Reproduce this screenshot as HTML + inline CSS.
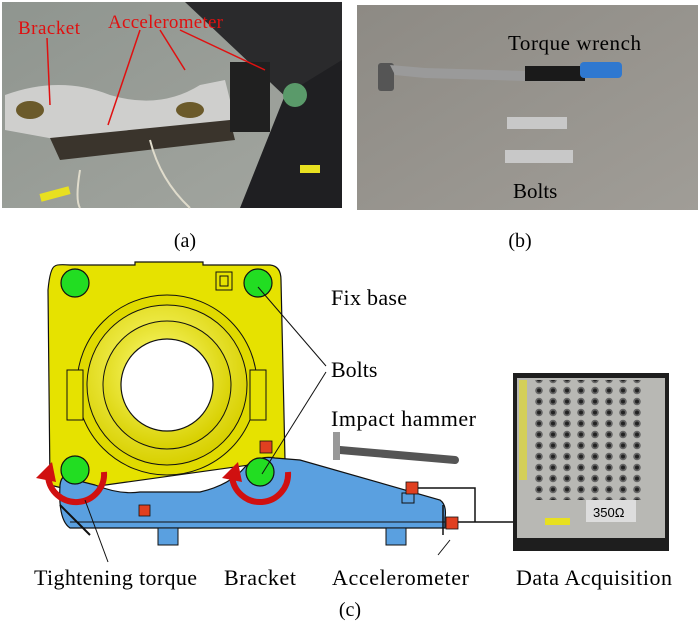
<!DOCTYPE html>
<html><head><meta charset="utf-8"><style>
html,body{margin:0;padding:0;background:#fff;}
svg{display:block;font-family:"Liberation Serif",serif;}
</style></head><body>
<svg width="700" height="629" viewBox="0 0 700 629" xmlns="http://www.w3.org/2000/svg">
<defs>
<radialGradient id="ring" cx="0.45" cy="0.4" r="0.6"><stop offset="0" stop-color="#ffff80"/><stop offset="1" stop-color="#d8d000"/></radialGradient>
<linearGradient id="floorA" x1="0" y1="0" x2="1" y2="1"><stop offset="0" stop-color="#8f958f"/><stop offset="1" stop-color="#a3a6a0"/></linearGradient>
<linearGradient id="floorB" x1="0" y1="0" x2="1" y2="1"><stop offset="0" stop-color="#8d8a84"/><stop offset="1" stop-color="#a09d97"/></linearGradient>
<pattern id="dots" width="14" height="11" patternUnits="userSpaceOnUse"><circle cx="7" cy="5.5" r="3.8" fill="#666"/><circle cx="7" cy="5.5" r="2" fill="#222"/></pattern>
</defs>
<rect x="2" y="2" width="340" height="206" fill="url(#floorA)"/>
<polygon points="185,2 342,2 342,150" fill="#2a2a2c"/>
<polygon points="285,95 342,60 342,208 240,208" fill="#1f1f22"/>
<path d="M5,95 Q60,75 110,95 Q160,110 200,85 L225,80 L235,120 L200,135 Q150,125 110,145 L60,140 L5,130 Z" fill="#cfcfcd"/>
<path d="M50,138 L230,120 L235,140 L60,160 Z" fill="#3a342c"/>
<ellipse cx="30" cy="110" rx="14" ry="9" fill="#6b5a2a"/>
<ellipse cx="190" cy="110" rx="14" ry="8" fill="#6b5a2a"/>
<rect x="230" y="62" width="40" height="70" fill="#202020"/>
<circle cx="295" cy="95" r="12" fill="#5a9a6a"/>
<path d="M80,170 Q75,200 80,208 M150,140 Q160,180 190,208" stroke="#e0dccc" stroke-width="2" fill="none"/>
<rect x="40" y="190" width="30" height="8" fill="#e8e020" transform="rotate(-15 55 194)"/>
<rect x="300" y="165" width="20" height="8" fill="#e8e020"/>
<text x="18" y="34" font-size="19" fill="#e01010" textLength="62">Bracket</text>
<text x="108" y="28" font-size="19" fill="#e01010" textLength="115">Accelerometer</text>
<g stroke="#e01010" stroke-width="1.5" fill="#e01010">
<line x1="47" y1="38" x2="50" y2="105"/><line x1="140" y1="30" x2="108" y2="125"/><line x1="160" y1="30" x2="185" y2="70"/><line x1="180" y1="30" x2="265" y2="70"/>
</g>
<rect x="357" y="5" width="341" height="205" fill="url(#floorB)"/>
<rect x="378" y="63" width="16" height="28" rx="3" fill="#555"/>
<path d="M390,65 L425,68 L560,72 L560,82 L425,78 L395,75 Z" fill="#9a9a9a"/>
<rect x="525" y="66" width="60" height="15" fill="#1a1a1a"/>
<rect x="580" y="62" width="42" height="16" rx="4" fill="#2f78d0"/>
<rect x="507" y="117" width="60" height="12" fill="#c8c8c8"/>
<rect x="505" y="150" width="68" height="13" fill="#c8c8c8"/>
<text x="508" y="50" font-size="21" fill="#000" textLength="133">Torque wrench</text>
<text x="513" y="198" font-size="21" fill="#000">Bolts</text>
<text x="185" y="247" font-size="20" text-anchor="middle">(a)</text>
<text x="520" y="247" font-size="20" text-anchor="middle">(b)</text>
<path d="M55,266 Q57,264 70,265 L135,265 L135,262 L203,262 L203,265 L270,265 Q281,266 281,280 L285,460 L70,490 L50,485 L48,290 Q50,268 55,266 Z" fill="#e6e200" stroke="#111" stroke-width="1.2"/>
<circle cx="167" cy="385" r="90" fill="#e0da00" stroke="#111"/>
<circle cx="167" cy="385" r="80" fill="url(#ring)" stroke="#111"/>
<circle cx="167" cy="385" r="64" fill="url(#ring)" stroke="#111"/>
<circle cx="167" cy="385" r="46" fill="#fff" stroke="#111" stroke-width="1.2"/>
<rect x="216" y="272" width="16" height="18" fill="none" stroke="#111"/>
<rect x="220" y="276" width="8" height="10" fill="none" stroke="#111"/>
<rect x="67" y="370" width="16" height="50" fill="#e6e200" stroke="#111"/>
<rect x="250" y="370" width="16" height="50" fill="#e6e200" stroke="#111"/>
<path d="M60,485 Q62,470 75,480 L95,485 Q120,495 140,492 L200,492 Q230,485 245,467 Q258,455 275,458 L300,460 L440,500 Q447,505 445,518 L445,528 L70,528 Q58,520 60,485 Z" fill="#5aa0e0" stroke="#111" stroke-width="1.2"/>
<line x1="70" y1="522" x2="445" y2="522" stroke="#111"/>
<line x1="60" y1="505" x2="90" y2="535" stroke="#111" stroke-width="2"/>
<line x1="443" y1="505" x2="443" y2="535" stroke="#111" stroke-width="1.5"/>
<rect x="158" y="528" width="20" height="17" fill="#5aa0e0" stroke="#111"/>
<rect x="386" y="528" width="20" height="17" fill="#5aa0e0" stroke="#111"/>
<rect x="402" y="493" width="12" height="10" fill="#5aa0e0" stroke="#111"/>
<g fill="#22dd22" stroke="#111" stroke-width="1.2">
<circle cx="75" cy="283" r="14"/><circle cx="258" cy="283" r="14"/><circle cx="75" cy="470" r="14"/><circle cx="260" cy="472" r="14"/>
</g>
<path d="M104,472 A28,28 0 0 1 48,476" stroke="#d01010" stroke-width="6" fill="none"/>
<polygon points="36,478 52,462 56,482" fill="#d01010"/>
<path d="M288,472 A28,28 0 0 1 232,476" stroke="#d01010" stroke-width="6" fill="none"/>
<polygon points="222,478 238,462 242,482" fill="#d01010"/>
<g fill="#e04020" stroke="#111" stroke-width="0.8">
<rect x="260" y="441" width="12" height="12"/><rect x="139" y="505" width="11" height="11"/><rect x="406" y="482" width="12" height="12"/><rect x="446" y="517" width="12" height="12"/>
</g>
<polyline points="418,488 475,488 475,522" fill="none" stroke="#111" stroke-width="1.5"/>
<line x1="458" y1="522" x2="513" y2="522" stroke="#111" stroke-width="1.5"/>
<line x1="340" y1="450" x2="455" y2="460" stroke="#555" stroke-width="8" stroke-linecap="round"/>
<rect x="333" y="432" width="7" height="28" fill="#999"/>
<g stroke="#111" stroke-width="1">
<line x1="258" y1="287" x2="326" y2="366"/><line x1="262" y1="474" x2="326" y2="372"/>
<line x1="85" y1="500" x2="108" y2="562"/><line x1="438" y1="555" x2="450" y2="540"/>
</g>
<rect x="513" y="373" width="156" height="178" fill="#1e1e1e"/>
<rect x="517" y="378" width="148" height="160" fill="#b8b8b4"/>
<rect x="530" y="380" width="115" height="120" fill="url(#dots)"/>
<rect x="519" y="380" width="8" height="100" fill="#e0d830" opacity="0.7"/>
<rect x="586" y="500" width="50" height="22" fill="#ddd"/>
<text x="593" y="517" font-size="13" font-family="Liberation Sans,sans-serif">350Ω</text>
<rect x="545" y="518" width="25" height="7" fill="#e8e020"/>
<g font-size="22">
<text x="331" y="305" textLength="76">Fix base</text>
<text x="331" y="377">Bolts</text>
<text x="331" y="426" textLength="145">Impact hammer</text>
<text x="34" y="585" textLength="163">Tightening torque</text>
<text x="224" y="585" textLength="72">Bracket</text>
<text x="332" y="585" textLength="137">Accelerometer</text>
<text x="516" y="585" textLength="156">Data Acquisition</text>
<text x="350" y="616" text-anchor="middle" font-size="20">(c)</text>
</g>
</svg>
</body></html>
